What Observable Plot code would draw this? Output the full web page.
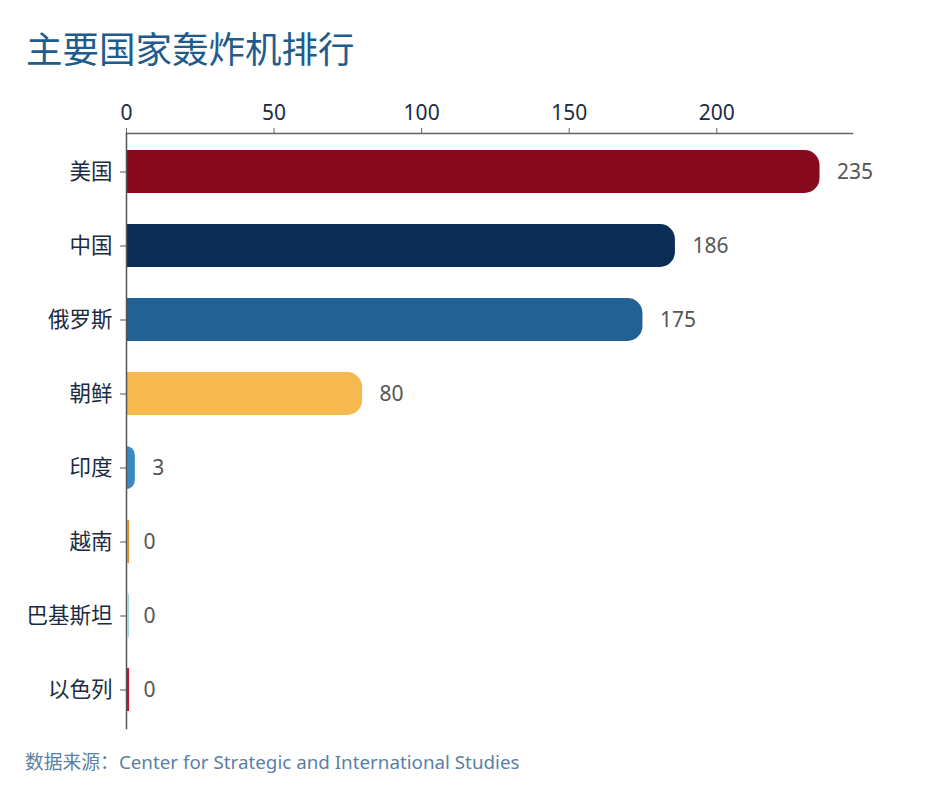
<!DOCTYPE html>
<html>
<head>
<meta charset="utf-8">
<script src="https://cdn.jsdelivr.net/npm/d3@7"></script>
<script src="https://cdn.jsdelivr.net/npm/@observablehq/plot@0.6"></script>
<style>
  html, body { margin: 0; padding: 0; background: #fff; }
  body { width: 941px; height: 800px; position: relative; font-family: "Noto Sans", "Noto Sans CJK SC", sans-serif; }
  #title { position: absolute; left: 26px; top: 26px; font-family: "Noto Sans CJK SC", sans-serif; font-size: 36.5px; line-height: 44px; color: #1F5C8C; font-weight: 400; }
  #chart { position: absolute; left: 0; top: 80px; }
  #caption { position: absolute; left: 25px; top: 749px; font-family: "Noto Sans", "Noto Sans CJK SC", sans-serif; font-size: 18.8px; line-height: 26px; color: #5B7FA3; }
</style>
</head>
<body>
<div id="title">主要国家轰炸机排行</div>
<div id="chart"></div>
<div id="caption">数据来源：Center for Strategic and International Studies</div>
<script>
const countries = ["美国", "中国", "俄罗斯", "朝鲜", "印度", "越南", "巴基斯坦", "以色列"];
const bombers = [235, 186, 175, 80, 3, 0, 0, 0];
const barColors = ["#880A1F", "#0B2D55", "#216194", "#F5B94F", "#3A8AC6", "#E38A2F", "#A6D7E5", "#C8102E"];
const xTicks = [0, 50, 100, 150, 200];

const data = countries.map((c, i) => ({country: c, value: bombers[i]}));
const zeros = data.filter(d => d.value === 0);

const chart = Plot.plot({
  width: 941,
  height: 658,
  marginTop: 53,
  marginBottom: 10,
  marginLeft: 126,
  marginRight: 89,
  style: {fontFamily: "'Noto Sans CJK SC', 'Noto Sans', sans-serif", fontSize: "20px", background: "transparent"},
  x: {domain: [0, 246], axis: null},
  y: {domain: countries, paddingInner: 0.42, paddingOuter: 0.21, axis: null},
  color: {domain: countries, range: barColors},
  marks: [
    Plot.barX(data, {x: "value", y: "country", fill: "country", rx2: 15}),
    Plot.frame({anchor: "top", stroke: "#666", strokeWidth: 1.5}),
    Plot.frame({anchor: "left", stroke: "#555", strokeWidth: 1.5}),
    Plot.tickX(zeros, {x: "value", y: "country", stroke: "country", strokeWidth: 2, dx: 1.5}),
    Plot.axisX({anchor: "top", ticks: xTicks, tickSize: 6, tickPadding: 8, stroke: "#666", fill: "#1B2B42", fontSize: 21, fontFamily: "'Noto Sans', sans-serif", tickFormat: d => d, label: null}),
    Plot.axisY({anchor: "left", tickSize: 6, tickPadding: 8, stroke: "#555", fill: "#1B2B42", fontSize: 21.5, label: null}),
    Plot.text(data, {x: "value", y: "country", text: d => String(d.value), dx: 17, textAnchor: "start", fill: "#555", fontSize: 21, fontFamily: "'Noto Sans', sans-serif"})
  ]
});
document.getElementById("chart").appendChild(chart);
</script>
</body>
</html>
